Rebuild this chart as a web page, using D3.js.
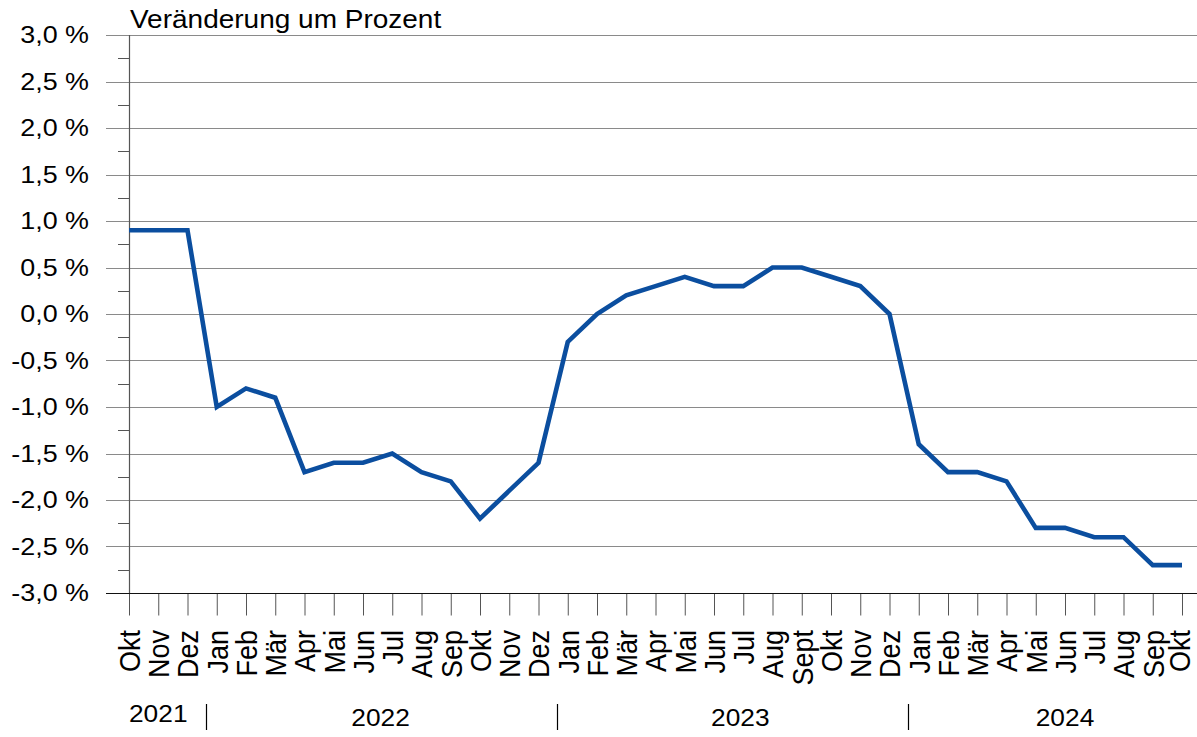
<!DOCTYPE html>
<html>
<head>
<meta charset="utf-8">
<script src="https://cdn.jsdelivr.net/npm/d3@7"></script>
<style>
  html, body { margin: 0; padding: 0; background: #fff; }
  text { font-family: "Liberation Sans", Arial, sans-serif; fill: #000; }
</style>
</head>
<body>
<div id="chart"></div>
<script>
// --- data ---
const months = ["Okt","Nov","Dez","Jan","Feb","Mär","Apr","Mai","Jun","Jul","Aug","Sep",
                "Okt","Nov","Dez","Jan","Feb","Mär","Apr","Mai","Jun","Jul","Aug","Sept",
                "Okt","Nov","Dez","Jan","Feb","Mär","Apr","Mai","Jun","Jul","Aug","Sep","Okt"];
const values = [0.9, 0.9, 0.9, -1.0, -0.8, -0.9, -1.7, -1.6, -1.6, -1.5, -1.7, -1.8,
                -2.2, -1.9, -1.6, -0.3, 0.0, 0.2, 0.3, 0.4, 0.3, 0.3, 0.5, 0.5,
                0.4, 0.3, 0.0, -1.4, -1.7, -1.7, -1.8, -2.3, -2.3, -2.4, -2.4, -2.7, -2.7];
const years = ["2021", "2022", "2023", "2024"];
const yearStart = [0, 3, 15, 27];     // index of first month of each year
const yTicks = [3, 2.5, 2, 1.5, 1, 0.5, 0, -0.5, -1, -1.5, -2, -2.5, -3];
const yMinor = [2.75, 2.25, 1.75, 1.25, 0.75, 0.25, -0.25, -0.75, -1.25, -1.75, -2.25, -2.75];
const title = "Veränderung um Prozent";

// --- layout ---
const width = 1197, height = 737;
const m = { left: 129, right: 1182, top: 35, bottom: 593 };
const sx = 1.12; // text in the source is slightly stretched horizontally

const svg = d3.select("#chart").append("svg")
    .attr("width", width)
    .attr("height", height);

const x = d3.scaleLinear().domain([0, months.length - 1]).range([m.left, m.right]);
const y = d3.scaleLinear().domain([-3, 3]).range([m.bottom, m.top]);

// gridlines + major ticks
svg.append("g")
  .selectAll("line")
  .data(yTicks.filter(d => d !== -3))
  .join("line")
    .attr("x1", 106).attr("x2", width)
    .attr("y1", d => Math.round(y(d)) + 0.5)
    .attr("y2", d => Math.round(y(d)) + 0.5)
    .attr("stroke", "#8a8a8a")
    .attr("stroke-width", 1);

// minor ticks
svg.append("g")
  .selectAll("line")
  .data(yMinor)
  .join("line")
    .attr("x1", 118).attr("x2", m.left)
    .attr("y1", d => Math.round(y(d)) + 0.5)
    .attr("y2", d => Math.round(y(d)) + 0.5)
    .attr("stroke", "#555")
    .attr("stroke-width", 1);

// y tick labels
svg.append("g")
  .selectAll("text")
  .data(yTicks)
  .join("text")
    .attr("transform", d => `translate(89,${y(d)}) scale(${sx},1)`)
    .attr("dy", "0.35em")
    .attr("text-anchor", "end")
    .style("font-size", "24px")
    .text(d => d3.format(".1f")(d).replace(".", ",").replace("−", "-") + " %");

// y axis line
svg.append("line")
    .attr("x1", m.left + 0.5).attr("x2", m.left + 0.5)
    .attr("y1", m.top).attr("y2", m.bottom)
    .attr("stroke", "#555")
    .attr("stroke-width", 1.2);

// x axis with ticks
const xAxis = d3.axisBottom(x)
    .tickValues(d3.range(months.length))
    .tickSize(22)
    .tickFormat("");
const gx = svg.append("g")
    .attr("transform", `translate(0,${Math.round(m.bottom) + 0.5})`)
    .call(xAxis);
gx.select(".domain").remove();
gx.selectAll(".tick line").attr("stroke", "#555");

// bottom line at -3,0 %
svg.append("line")
    .attr("x1", 106).attr("x2", width)
    .attr("y1", Math.round(m.bottom) + 0.5).attr("y2", Math.round(m.bottom) + 0.5)
    .attr("stroke", "#111")
    .attr("stroke-width", 1.2);

// month labels (rotated), last one kept inside the right edge
svg.append("g")
  .selectAll("text")
  .data(months)
  .join("text")
    .attr("transform", (d, i) => `translate(${Math.min(x(i) + 10.8, width - 7)},630) scale(${sx},1) rotate(-90)`)
    .attr("text-anchor", "end")
    .style("font-size", "27px")
    .text(d => d);

// year separators
svg.append("g")
  .selectAll("line")
  .data(yearStart.slice(1))
  .join("line")
    .attr("x1", d => Math.round(x(d - 0.5)) + 4.5)
    .attr("x2", d => Math.round(x(d - 0.5)) + 4.5)
    .attr("y1", 704).attr("y2", 730)
    .attr("stroke", "#000")
    .attr("stroke-width", 1.2);

// year labels
const yearCenter = [1, 8.6, 20.9, 32];
svg.append("g")
  .selectAll("text")
  .data(years)
  .join("text")
    .attr("transform", (d, i) => `translate(${x(yearCenter[i])},${i === 0 ? 722 : 726}) scale(${sx},1)`)
    .attr("text-anchor", "middle")
    .style("font-size", "23.5px")
    .text(d => d);

// title
svg.append("text")
    .attr("transform", `translate(130,28) scale(${sx},1)`)
    .style("font-size", "25px")
    .text(title);

// the line
const line = d3.line()
    .x((d, i) => x(i))
    .y(d => y(d));

svg.append("path")
    .datum(values)
    .attr("d", line)
    .attr("fill", "none")
    .attr("stroke", "#0b4e9f")
    .attr("stroke-width", 4.6)
    .attr("stroke-linejoin", "miter");
</script>
</body>
</html>
